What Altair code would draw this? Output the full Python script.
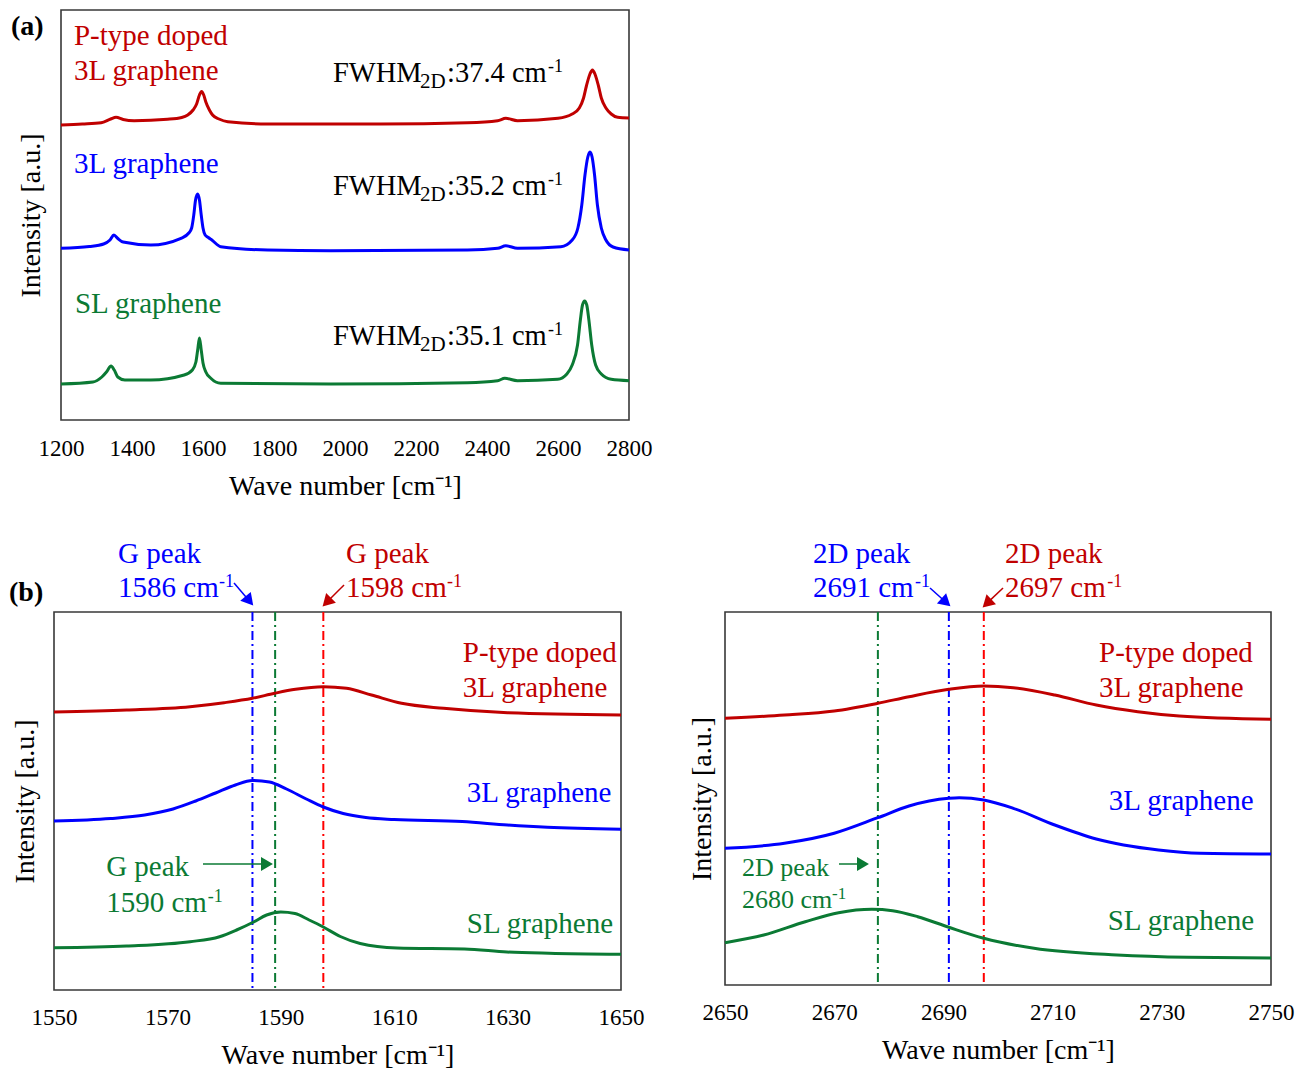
import altair as alt
import pandas as pd

FONT = "Liberation Serif"
RED = "#C00000"
BLUE = "#0000FF"
GREEN = "#0B7A34"
RED_LINE = "#FF0000"
BLACK = "#000000"

# ---------------- Panel (a): full spectra ----------------
a_red_x = [1200, 1260, 1313, 1340, 1355, 1375, 1406, 1500, 1540, 1557, 1572, 1582, 1590, 1596, 1602, 1608, 1618, 1627, 1645, 1670, 1782, 1960, 2100, 2345, 2430, 2453, 2486, 2600, 2640, 2660, 2672, 2680, 2690, 2697, 2704, 2714, 2722, 2735, 2750, 2768, 2800]
a_red_y = [295, 296, 297.3, 301, 302.7, 300.5, 299.3, 300.7, 302.5, 305, 310, 316, 325, 328.5, 325, 318, 310, 305, 301, 298.3, 296, 296, 296, 297.3, 299.3, 301.7, 299.3, 301.7, 306, 312, 322, 334, 346, 350, 346, 334, 322, 312, 306, 302.7, 302]

a_blue_x = [1200, 1280, 1320, 1338, 1349, 1360, 1375, 1453, 1538, 1560, 1568, 1574, 1579, 1585, 1590, 1595, 1600, 1606, 1615, 1625, 1650, 1782, 1960, 2345, 2430, 2453, 2486, 2608, 2640, 2656, 2667, 2676, 2684, 2690, 2696, 2703, 2711, 2722, 2735, 2755, 2800]
a_blue_y = [171.7, 173.5, 176, 180, 185, 181.5, 178, 175, 181.7, 187, 192, 205, 220, 226, 220, 205, 192, 185, 182.5, 180, 173.3, 170, 169.3, 170, 171.7, 174.3, 171.7, 173.3, 180, 192, 215, 245, 263, 268, 263, 245, 215, 192, 180, 173, 170]

a_green_x = [1200, 1290, 1315, 1328, 1341, 1350, 1360, 1380, 1453, 1547, 1570, 1580, 1585, 1590, 1595, 1600, 1608, 1622, 1650, 1960, 2345, 2430, 2450, 2486, 2599, 2625, 2640, 2655, 2663, 2669, 2675, 2681, 2687, 2695, 2706, 2722, 2750, 2800]
a_green_y = [36, 38, 43, 48, 54, 50, 43, 40, 40, 45, 50, 58, 70, 82, 70, 57, 48, 41.7, 36.7, 36, 37.3, 39.3, 41.7, 39.3, 40.7, 46, 55, 75, 100, 115, 119, 115, 100, 75, 55, 46, 40.7, 39.3]

a_ticks = [1200, 1400, 1600, 1800, 2000, 2200, 2400, 2600, 2800]

# text annotations of panel (a): x, y, text, color, size
a_txt_x = [1236.6, 1236.6, 1236.6, 1239.4,
           1966.2, 2211.3, 2287.3, 2571.8,
           1966.2, 2211.3, 2287.3, 2571.8,
           1966.2, 2211.3, 2287.3, 2571.8]
a_txt_y = [375, 340, 247, 107,
           338, 332, 338, 348,
           225, 219, 225, 235,
           75, 69, 75, 85]
a_txt = ["P-type doped", "3L graphene", "3L graphene", "SL graphene",
         "FWHM", "2D", ":37.4 cm", "-1",
         "FWHM", "2D", ":35.2 cm", "-1",
         "FWHM", "2D", ":35.1 cm", "-1"]
a_txt_c = [RED, RED, BLUE, GREEN] + [BLACK] * 12
a_txt_s = [29, 29, 29, 29] + [28.5, 21, 28.5, 18] * 3

# ---------------- Panel (b) left: G peak ----------------
g_red_x = [1550, 1562.8, 1574, 1580, 1585, 1588.9, 1592.6, 1597.5, 1601.6, 1606, 1611.3, 1618.7, 1630, 1650]
g_red_y = [278, 280, 283.3, 287.3, 291.7, 296.7, 300.7, 303.3, 301.7, 295, 286.7, 281.7, 277.3, 275]

g_blue_x = [1550, 1560, 1566, 1571, 1575, 1578.5, 1582, 1585, 1588, 1591, 1594.5, 1597.5, 1601, 1605, 1610, 1622, 1630, 1637, 1650]
g_blue_y = [169, 171.5, 175, 181, 189, 197, 205, 209.5, 208, 201, 191, 183, 176.5, 172.5, 170.5, 168.5, 165, 162.7, 160.7]

g_green_x = [1550, 1562.8, 1574, 1579.2, 1582.2, 1585.2, 1587.5, 1590, 1592.5, 1595, 1597.5, 1600.5, 1604, 1610.5, 1622.4, 1629.9, 1637.3, 1650]
g_green_y = [42.3, 44, 48.3, 53.3, 60, 68, 75, 78, 76.5, 70, 63, 53.5, 46.5, 42, 41, 38, 36.7, 35.7]

g_ticks = [1550, 1570, 1590, 1610, 1630, 1650]
g_vlines = [1585.0, 1589.0, 1597.5]
g_vcolors = [BLUE, GREEN, RED_LINE]

g_txt_x = [1561.3, 1561.3, 1579.1, 1601.5, 1601.5, 1619.3, 1622.1, 1622.1, 1622.8, 1559.2, 1559.2, 1577.1, 1622.8]
g_txt_y = [427, 393, 403, 427, 393, 403, 328, 293, 188, 114, 78, 88, 57]
g_txt = ["G peak", "1586 cm", "-1", "G peak", "1598 cm", "-1", "P-type doped", "3L graphene", "3L graphene", "G peak", "1590 cm", "-1", "SL graphene"]
g_txt_c = [BLUE, BLUE, BLUE, RED, RED, RED, RED, RED, BLUE, GREEN, GREEN, GREEN, GREEN]
g_txt_s = [29, 29, 18, 29, 29, 18, 29, 29, 29, 29, 29, 18, 29]

# arrows: tail (x0,y0) -> head centre (x1,y1)
g_arr_x0 = [1581.75, 1601.15, 1576.28]
g_arr_y0 = [407, 405, 126]
g_arr_x1 = [1584.23, 1598.36, 1587.21]
g_arr_y1 = [390.6, 389.2, 126]
g_arr_ang = [139.5, 225, 90]
g_arr_c = [BLUE, RED, GREEN]

# ---------------- Panel (b) right: 2D peak ----------------
d_red_x = [2650, 2660.9, 2670, 2678, 2683.7, 2691, 2697.4, 2702.8, 2710.4, 2718, 2725.6, 2733.2, 2750]
d_red_y = [266.7, 270, 274, 281.7, 288.3, 295.7, 299, 297.3, 290, 280, 273.3, 269, 265.7]

d_blue_x = [2650, 2660.9, 2670, 2678, 2683.7, 2691, 2692.9, 2697.4, 2702.8, 2710.4, 2718, 2729.4, 2737, 2750]
d_blue_y = [136.7, 141.7, 151.7, 167.3, 179, 186.7, 187.3, 185, 176.7, 160, 146, 135, 131.7, 131]

d_green_x = [2650, 2657.1, 2664.7, 2670.8, 2676.9, 2680.7, 2685.3, 2691, 2697.4, 2706.6, 2721.8, 2734.8, 2750]
d_green_y = [42.3, 50, 63.3, 72.3, 75.7, 74.3, 68.3, 57.7, 46.7, 36.7, 30, 27.7, 27]

d_ticks = [2650, 2670, 2690, 2710, 2730, 2750]
d_vlines = [2678.0, 2691.0, 2697.4]
d_vcolors = [GREEN, BLUE, RED_LINE]

d_txt_x = [2666.1, 2666.1, 2684.8, 2701.3, 2701.3, 2720.0, 2718.5, 2718.5, 2720.3, 2653.1, 2653.1, 2669.6, 2720.1]
d_txt_y = [422, 388, 398, 422, 388, 398, 323, 288, 175, 109, 77, 86, 55]
d_txt = ["2D peak", "2691 cm", "-1", "2D peak", "2697 cm", "-1", "P-type doped", "3L graphene", "3L graphene", "2D peak", "2680 cm", "-1", "SL graphene"]
d_txt_c = [BLUE, BLUE, BLUE, RED, RED, RED, RED, RED, BLUE, GREEN, GREEN, GREEN, GREEN]
d_txt_s = [29, 29, 18, 29, 29, 18, 29, 29, 29, 26, 26, 17, 29]

d_arr_x0 = [2687.55, 2700.92, 2670.88]
d_arr_y0 = [397, 397, 121]
d_arr_x1 = [2690.2, 2698.24, 2674.91]
d_arr_y1 = [384, 383.1, 121]
d_arr_ang = [131.8, 226.5, 90]
d_arr_c = [BLUE, RED, GREEN]


def lines_df(xs_list, ys_list, names):
    rows = []
    for xs, ys, n in zip(xs_list, ys_list, names):
        for x, y in zip(xs, ys):
            rows.append({"x": x, "y": y, "s": n})
    return pd.DataFrame(rows)


def make_panel(xdom, ydom, ticks, width, height, series_df, txt_df, label_pad, title_pad, ytitle_pad,
               vlines=None, arrows=None, tag=None):
    xsc = alt.Scale(domain=xdom, nice=False, zero=False)
    ysc = alt.Scale(domain=ydom, nice=False, zero=False)
    xax = alt.Axis(values=ticks, title="Wave number [cm⁻¹]", labelPadding=label_pad,
                   titlePadding=title_pad, labelFlush=False, labelOverlap=False, format="d",
                   ticks=False, tickSize=0, domain=False, grid=False)
    yax = alt.Axis(title="Intensity [a.u.]", labels=False, ticks=False, domain=False, grid=False,
                   titlePadding=ytitle_pad)
    X = alt.X("x:Q", scale=xsc, axis=xax)
    Y = alt.Y("y:Q", scale=ysc, axis=yax)

    layers = []
    if vlines is not None:
        vdf = pd.DataFrame({"x": vlines[0], "c": vlines[1]})
        layers.append(alt.Chart(vdf).mark_rule(strokeWidth=2, strokeDash=[9, 4, 2, 4]).encode(
            x=X, color=alt.Color("c:N", scale=None)))
    layers.append(alt.Chart(series_df).mark_line(interpolate="monotone", strokeWidth=3).encode(
        x=X, y=Y,
        color=alt.Color("s:N", scale=alt.Scale(domain=["red", "blue", "green"], range=[RED, BLUE, GREEN]),
                        legend=None)))
    if arrows is not None:
        adf = pd.DataFrame({"x": arrows[0], "y": arrows[1], "x2": arrows[2], "y2": arrows[3],
                            "ang": arrows[4], "c": arrows[5]})
        layers.append(alt.Chart(adf).mark_rule(strokeWidth=1.5).encode(
            x=X, y=Y, x2="x2:Q", y2="y2:Q", color=alt.Color("c:N", scale=None)))
        layers.append(alt.Chart(adf).mark_point(shape="triangle", filled=True, size=190, opacity=1).encode(
            x=alt.X("x2:Q", scale=xsc, axis=xax), y=alt.Y("y2:Q", scale=ysc, axis=yax),
            angle=alt.Angle("ang:Q", scale=None), color=alt.Color("c:N", scale=None)))
    layers.append(alt.Chart(txt_df).mark_text(align="left", baseline="alphabetic", font=FONT).encode(
        x=X, y=Y, text="t:N", color=alt.Color("c:N", scale=None), size=alt.Size("fs:Q", scale=None)))
    if tag is not None:
        tdf = pd.DataFrame({"x": [tag[0]], "y": [tag[1]], "t": [tag[2]]})
        layers.append(alt.Chart(tdf).mark_text(align="left", baseline="alphabetic", font=FONT,
                                               fontWeight="bold", fontSize=28, color=BLACK).encode(
            x=X, y=Y, text="t:N"))
    return alt.layer(*layers).properties(width=width, height=height)


a_series = lines_df([a_red_x, a_blue_x, a_green_x], [a_red_y, a_blue_y, a_green_y], ["red", "blue", "green"])
a_text = pd.DataFrame({"x": a_txt_x, "y": a_txt_y, "t": a_txt, "c": a_txt_c, "fs": a_txt_s})
panel_a = make_panel([1200, 2800], [0, 410], a_ticks, 568, 410, a_series, a_text,
                     label_pad=17, title_pad=12, ytitle_pad=16, tag=(1059.2, 385, "(a)"))

g_series = lines_df([g_red_x, g_blue_x, g_green_x], [g_red_y, g_blue_y, g_green_y], ["red", "blue", "green"])
g_text = pd.DataFrame({"x": g_txt_x, "y": g_txt_y, "t": g_txt, "c": g_txt_c, "fs": g_txt_s})
panel_g = make_panel([1550, 1650], [0, 378], g_ticks, 567, 378, g_series, g_text,
                     label_pad=16, title_pad=12, ytitle_pad=15,
                     vlines=(g_vlines, g_vcolors),
                     arrows=(g_arr_x0, g_arr_y0, g_arr_x1, g_arr_y1, g_arr_ang, g_arr_c),
                     tag=(1542.06, 389, "(b)"))

d_series = lines_df([d_red_x, d_blue_x, d_green_x], [d_red_y, d_blue_y, d_green_y], ["red", "blue", "green"])
d_text = pd.DataFrame({"x": d_txt_x, "y": d_txt_y, "t": d_txt, "c": d_txt_c, "fs": d_txt_s})
panel_d = make_panel([2650, 2750], [0, 373], d_ticks, 546, 373, d_series, d_text,
                     label_pad=16, title_pad=12, ytitle_pad=9,
                     vlines=(d_vlines, d_vcolors),
                     arrows=(d_arr_x0, d_arr_y0, d_arr_x1, d_arr_y1, d_arr_ang, d_arr_c))

spacer = alt.Chart(pd.DataFrame({"v": [0]})).mark_point(opacity=0, size=1).encode(
    x=alt.value(0), y=alt.value(200)).properties(width=1, height=410,
                                                 view=alt.ViewBackground(stroke="transparent"))

top_row = alt.hconcat(spacer, panel_a, spacing=6, bounds="flush")
bottom_row = alt.hconcat(panel_g, panel_d, spacing=104, bounds="flush")

chart = alt.vconcat(top_row, bottom_row, spacing=38).properties(
    padding={"left": 0, "top": 1, "right": 5, "bottom": 5}
).configure_view(
    stroke="#383838", strokeWidth=1.6
).configure_axis(
    labelFont=FONT, labelFontSize=23, labelColor=BLACK,
    titleFont=FONT, titleFontSize=28, titleFontWeight="normal", titleColor=BLACK
)

chart.save("out.html", embed_options={"renderer": "svg", "actions": False})
